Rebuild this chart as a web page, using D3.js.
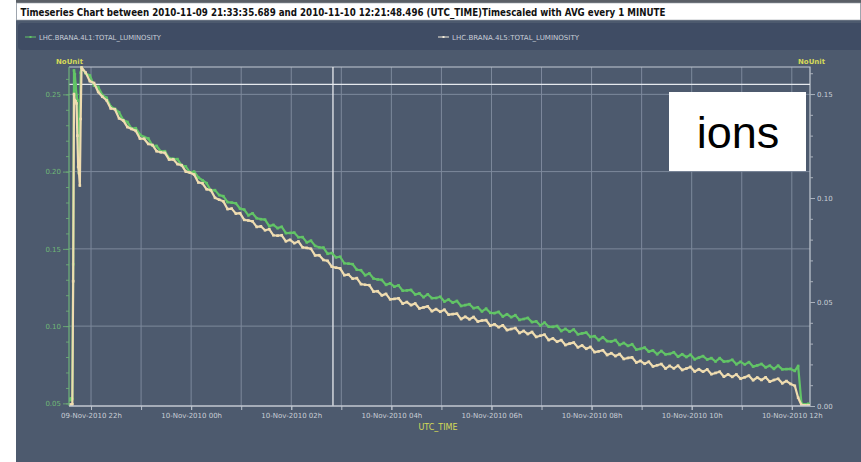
<!DOCTYPE html>
<html>
<head>
<meta charset="utf-8">
<script src="https://cdn.jsdelivr.net/npm/d3@7"></script>
<style>
  body { margin: 0; background: #ffffff; }
  svg { display: block; }
</style>
</head>
<body>
<svg id="chart" width="861" height="462"></svg>
<script>
// ---- chart data -------------------------------------------------------
const titleText = "Timeseries Chart between 2010-11-09 21:33:35.689 and 2010-11-10 12:21:48.496 (UTC_TIME)Timescaled with AVG every 1 MINUTE";
const seriesNames = ["LHC.BRANA.4L1:TOTAL_LUMINOSITY", "LHC.BRANA.4L5:TOTAL_LUMINOSITY"];
const startTime = "2010-11-09T21:33:35.689Z";
const endTime = "2010-11-10T12:21:48.496Z";
const cursorTime = "2010-11-10T02:50:00Z";
const cursorLevel = 0.2565;
const axisUnit = "NoUnit";
const timeAxisName = "UTC_TIME";
const noteText = "ions";

// sample times, minutes after startTime
const minutes = [
  0, 1, 2, 3, 4, 5, 6, 7, 8, 9, 10, 11, 12, 13, 14,
  15, 20, 25, 30, 35, 40, 45, 50, 55, 60, 65, 70, 75, 80, 85, 90, 95, 100,
  105, 110, 115, 120, 125, 130, 135, 140, 145, 150, 155, 160, 165, 170, 175, 180,
  185, 190, 195, 200, 205, 210, 215, 220, 225, 230, 235, 240, 245, 250, 255, 260,
  265, 270, 275, 280, 285, 290, 295, 300, 305, 310, 315, 320, 325, 330, 335, 340,
  345, 350, 355, 360, 365, 370, 375, 380, 385, 390, 395, 400, 405, 410, 415, 420,
  425, 430, 435, 440, 445, 450, 455, 460, 465, 470, 475, 480, 485, 490, 495, 500,
  505, 510, 515, 520, 525, 530, 535, 540, 545, 550, 555, 560, 565, 570, 575, 580,
  585, 590, 595, 600, 605, 610, 615, 620, 625, 630, 635, 640, 645, 650, 655, 660,
  665, 670, 675, 680, 685, 690, 695, 700, 705, 710, 715, 720, 725, 730, 735, 740,
  745, 750, 755, 760, 765, 770, 775, 780, 785, 790, 795, 800, 805, 810, 815, 820,
  825, 830, 835, 840, 845, 850, 855, 860, 865, 870,
  874, 878, 882, 886, 888
];

// LHC.BRANA.4L1 (left axis)
const lumi4L1 = [
  0.0520, 0.0525, 0.0532, 0.0522, 0.0528, 0.1400, 0.2655, 0.2630, 0.2560, 0.2495, 0.2460, 0.2150, 0.1990, 0.2314, 0.2640,
  0.2675, 0.2635, 0.2622, 0.2556, 0.2548, 0.2495, 0.2478, 0.2422, 0.2406, 0.2384, 0.2334, 0.2321, 0.2278, 0.2281, 0.2239, 0.2224, 0.2215, 0.2168,
  0.2166, 0.2131, 0.2132, 0.2087, 0.2083, 0.2081, 0.2041, 0.2033, 0.1993, 0.2000, 0.1962, 0.1944, 0.1925, 0.1878, 0.1880, 0.1848,
  0.1841, 0.1803, 0.1799, 0.1795, 0.1760, 0.1754, 0.1717, 0.1730, 0.1698, 0.1692, 0.1689, 0.1647, 0.1655, 0.1634, 0.1643, 0.1602,
  0.1603, 0.1605, 0.1575, 0.1576, 0.1542, 0.1553, 0.1519, 0.1510, 0.1508, 0.1468, 0.1473, 0.1445, 0.1449, 0.1407, 0.1404, 0.1401,
  0.1365, 0.1362, 0.1329, 0.1341, 0.1308, 0.1302, 0.1299, 0.1267, 0.1277, 0.1255, 0.1264, 0.1229, 0.1231, 0.1234, 0.1205, 0.1212,
  0.1187, 0.1206, 0.1181, 0.1182, 0.1190, 0.1159, 0.1172, 0.1152, 0.1163, 0.1130, 0.1136, 0.1142, 0.1116, 0.1122, 0.1095, 0.1113,
  0.1086, 0.1084, 0.1092, 0.1062, 0.1077, 0.1058, 0.1071, 0.1040, 0.1046, 0.1053, 0.1026, 0.1031, 0.1004, 0.1023, 0.0996, 0.0995,
  0.1001, 0.0968, 0.0982, 0.0964, 0.0978, 0.0947, 0.0953, 0.0958, 0.0930, 0.0935, 0.0909, 0.0928, 0.0903, 0.0900, 0.0910, 0.0878,
  0.0891, 0.0872, 0.0883, 0.0848, 0.0853, 0.0861, 0.0835, 0.0843, 0.0818, 0.0839, 0.0817, 0.0820, 0.0831, 0.0802, 0.0818, 0.0800,
  0.0815, 0.0785, 0.0796, 0.0806, 0.0784, 0.0793, 0.0771, 0.0793, 0.0770, 0.0773, 0.0782, 0.0753, 0.0769, 0.0752, 0.0767, 0.0738,
  0.0746, 0.0755, 0.0733, 0.0744, 0.0723, 0.0744, 0.0720, 0.0722, 0.0723, 0.0710,
  0.0742, 0.0498, 0.0494, 0.0497, 0.0495
];

// LHC.BRANA.4L5 (right axis)
const lumi4L5 = [
  0.0006, 0.0004, 0.0007, 0.0005, 0.0008, 0.0600, 0.1500, 0.1470, 0.1465, 0.1455, 0.1300, 0.1150, 0.1120, 0.1060, 0.1380,
  0.1628, 0.1603, 0.1562, 0.1553, 0.1510, 0.1487, 0.1470, 0.1431, 0.1427, 0.1383, 0.1373, 0.1341, 0.1332, 0.1323, 0.1286, 0.1285, 0.1260, 0.1255,
  0.1225, 0.1220, 0.1217, 0.1185, 0.1186, 0.1163, 0.1158, 0.1127, 0.1122, 0.1113, 0.1075, 0.1071, 0.1042, 0.1038, 0.1001, 0.0992,
  0.0984, 0.0947, 0.0949, 0.0925, 0.0927, 0.0895, 0.0892, 0.0888, 0.0861, 0.0864, 0.0845, 0.0850, 0.0821, 0.0819, 0.0821, 0.0792,
  0.0799, 0.0783, 0.0791, 0.0763, 0.0760, 0.0756, 0.0724, 0.0725, 0.0702, 0.0698, 0.0670, 0.0665, 0.0662, 0.0629, 0.0632, 0.0612,
  0.0615, 0.0586, 0.0583, 0.0581, 0.0550, 0.0552, 0.0532, 0.0539, 0.0513, 0.0515, 0.0518, 0.0492, 0.0500, 0.0485, 0.0493, 0.0469,
  0.0474, 0.0479, 0.0456, 0.0466, 0.0453, 0.0463, 0.0439, 0.0442, 0.0444, 0.0418, 0.0429, 0.0417, 0.0428, 0.0406, 0.0411, 0.0413,
  0.0386, 0.0393, 0.0379, 0.0388, 0.0365, 0.0370, 0.0375, 0.0351, 0.0361, 0.0346, 0.0356, 0.0332, 0.0338, 0.0343, 0.0317, 0.0325,
  0.0309, 0.0317, 0.0293, 0.0300, 0.0305, 0.0282, 0.0291, 0.0275, 0.0284, 0.0259, 0.0263, 0.0268, 0.0245, 0.0254, 0.0240, 0.0250,
  0.0226, 0.0231, 0.0234, 0.0209, 0.0217, 0.0203, 0.0213, 0.0190, 0.0196, 0.0202, 0.0180, 0.0193, 0.0181, 0.0194, 0.0173, 0.0180,
  0.0188, 0.0166, 0.0177, 0.0165, 0.0176, 0.0153, 0.0159, 0.0165, 0.0141, 0.0152, 0.0140, 0.0152, 0.0131, 0.0138, 0.0146, 0.0124,
  0.0137, 0.0125, 0.0138, 0.0117, 0.0125, 0.0131, 0.0109, 0.0120, 0.0106, 0.0097,
  0.0040, 0.0005, 0.0003, 0.0004, 0.0003
];

const leftDomain = [0.0483, 0.2677];
const rightDomain = [0, 0.163];
const leftTicks = [0.05, 0.10, 0.15, 0.20, 0.25];
const rightTicks = [0.00, 0.05, 0.10, 0.15];

// ---- colours ------------------------------------------------------------
const panelColor = "#4d5a6e";
const legendColor = "#3f4c64";
const gridColor = "#7d899c";
const frameColor = "#c4cad3";
const cursorColor = "#e6e9ee";
const greenColor = "#62c466";
const creamColor = "#efdcb0";
const greenText = "#6fb877";
const greyText = "#c9ced6";
const yellowText = "#d6da58";

// ---- layout -------------------------------------------------------------
const plot = { left: 69, right: 810, top: 67, bottom: 406 };

const svg = d3.select("#chart");
const parse = d3.isoParse;
const t0 = parse(startTime);
const t1 = parse(endTime);

const x = d3.scaleUtc().domain([t0, t1]).range([plot.left, plot.right]);
const yL = d3.scaleLinear().domain(leftDomain).range([plot.bottom, plot.top]);
const yR = d3.scaleLinear().domain(rightDomain).range([plot.bottom, plot.top]);

const timeOf = m => new Date(t0.getTime() + m * 60000);
const rows = (vals) => minutes
  .map((m, i) => ({ t: timeOf(m), v: vals[i] }))
  .filter(d => d.v != null);

// background panel
svg.append("rect").attr("x", 16).attr("y", 0).attr("width", 845).attr("height", 462)
  .attr("fill", panelColor);

// title bar
svg.append("rect").attr("x", 16).attr("y", 0).attr("width", 845).attr("height", 3)
  .attr("fill", "#5a5f66");
svg.append("rect").attr("x", 16.5).attr("y", 3).attr("width", 844).attr("height", 17)
  .attr("fill", "#ffffff").attr("stroke", "#9aa0a8").attr("stroke-width", 0.6);
svg.append("text").attr("x", 20.5).attr("y", 16.2)
  .attr("font-family", "'DejaVu Sans', sans-serif").attr("font-weight", "bold")
  .attr("font-size", 11).attr("fill", "#111")
  .attr("textLength", 645).attr("lengthAdjust", "spacingAndGlyphs")
  .text(titleText);

// legend band
svg.append("rect").attr("x", 18).attr("y", 23).attr("width", 850).attr("height", 27)
  .attr("rx", 4).attr("fill", legendColor);

const legendItems = [
  { name: seriesNames[0], color: greenColor, x: 25, len: 122 },
  { name: seriesNames[1], color: "#f2ead8", x: 438, len: 127 }
];
const lg = svg.append("g").selectAll("g").data(legendItems).join("g")
  .attr("transform", d => `translate(${d.x},37)`);
lg.append("line").attr("x1", 0).attr("x2", 11).attr("y1", 0).attr("y2", 0)
  .attr("stroke", d => d.color).attr("stroke-width", 1);
lg.append("rect").attr("x", 4.5).attr("y", -1).attr("width", 2).attr("height", 2)
  .attr("fill", d => d.color);
lg.append("text").attr("x", 14).attr("y", 2.5)
  .attr("font-family", "'DejaVu Sans', sans-serif").attr("font-size", 7)
  .attr("fill", "#c8ced8")
  .attr("textLength", d => d.len).attr("lengthAdjust", "spacingAndGlyphs")
  .text(d => d.name);

// unit labels
svg.append("text").attr("x", 56).attr("y", 64)
  .attr("font-family", "'DejaVu Sans', sans-serif").attr("font-size", 7).attr("font-weight", "bold")
  .attr("fill", yellowText).text(axisUnit);
svg.append("text").attr("x", 798).attr("y", 64)
  .attr("font-family", "'DejaVu Sans', sans-serif").attr("font-size", 7).attr("font-weight", "bold")
  .attr("fill", yellowText).text(axisUnit);

// grid
const grid = svg.append("g");
grid.selectAll("line.v").data(x.ticks(d3.utcHour.every(1))).join("line")
  .attr("class", "v")
  .attr("x1", d => x(d)).attr("x2", d => x(d))
  .attr("y1", plot.top).attr("y2", plot.bottom)
  .attr("stroke", gridColor).attr("stroke-width", 1);
grid.selectAll("line.h").data(leftTicks.filter(v => v > 0.06)).join("line")
  .attr("class", "h")
  .attr("x1", plot.left).attr("x2", plot.right)
  .attr("y1", d => yL(d)).attr("y2", d => yL(d))
  .attr("stroke", gridColor).attr("stroke-width", 1);

// frame (top and right)
svg.append("path")
  .attr("d", `M${plot.left},${plot.top}H${plot.right}V${plot.bottom}`)
  .attr("fill", "none").attr("stroke", frameColor).attr("stroke-width", 1.2);

// crosshair cursor
svg.append("line")
  .attr("x1", x(parse(cursorTime))).attr("x2", x(parse(cursorTime)))
  .attr("y1", plot.top).attr("y2", plot.bottom)
  .attr("stroke", cursorColor).attr("stroke-width", 1.3);
svg.append("line")
  .attr("x1", plot.left).attr("x2", plot.right)
  .attr("y1", yL(cursorLevel)).attr("y2", yL(cursorLevel))
  .attr("stroke", cursorColor).attr("stroke-width", 1.3);

// series: thin connecting line plus a small square at every sample
svg.append("clipPath").attr("id", "plotClip").append("rect")
  .attr("x", plot.left).attr("y", plot.top - 2)
  .attr("width", plot.right - plot.left).attr("height", plot.bottom - plot.top + 2);

const series = svg.append("g").attr("clip-path", "url(#plotClip)");
const lineL = d3.line().x(d => x(d.t)).y(d => yL(d.v));
const lineR = d3.line().x(d => x(d.t)).y(d => yR(d.v));

const drawSeries = (data, line, yScale, color) => {
  const g = series.append("g");
  g.append("path").datum(data)
    .attr("d", line).attr("fill", "none")
    .attr("stroke", color).attr("stroke-width", 2.2).attr("stroke-linejoin", "round");
  g.selectAll("rect").data(data).join("rect")
    .attr("x", d => x(d.t) - 1.3).attr("y", d => yScale(d.v) - 1.3)
    .attr("width", 2.6).attr("height", 2.6)
    .attr("fill", color);
};
drawSeries(rows(lumi4L1), lineL, yL, greenColor);
drawSeries(rows(lumi4L5), lineR, yR, creamColor);

// axes
const fmt2 = d3.format(".2f");
const styleAxis = (g, lineColor, textColor) => {
  g.select(".domain").remove();
  g.selectAll(".tick line").attr("stroke", lineColor);
  g.selectAll(".tick text").attr("fill", textColor)
    .attr("font-family", "'DejaVu Sans', sans-serif").attr("font-size", 7);
};

// left axis
svg.append("g").attr("transform", `translate(${plot.left},0)`)
  .call(d3.axisLeft(yL).tickValues(d3.range(0.05, 0.2651, 0.01)).tickSize(3).tickFormat(""))
  .call(g => styleAxis(g, "#69a574", greenText));
svg.append("g").attr("transform", `translate(${plot.left},0)`)
  .call(d3.axisLeft(yL).tickValues(leftTicks).tickSize(6).tickPadding(2).tickFormat(fmt2))
  .call(g => styleAxis(g, "#69a574", greenText));
svg.append("line").attr("x1", plot.left).attr("x2", plot.left)
  .attr("y1", plot.top).attr("y2", plot.bottom)
  .attr("stroke", "#6fb37a").attr("stroke-width", 1.2);

// right axis
svg.append("g").attr("transform", `translate(${plot.right},0)`)
  .call(d3.axisRight(yR).tickValues(d3.range(0, 0.1601, 0.01)).tickSize(3).tickFormat(""))
  .call(g => styleAxis(g, "#aab1bc", greyText));
svg.append("g").attr("transform", `translate(${plot.right},0)`)
  .call(d3.axisRight(yR).tickValues(rightTicks).tickSize(5).tickPadding(2).tickFormat(fmt2))
  .call(g => styleAxis(g, "#aab1bc", greyText));

// time axis
svg.append("g").attr("transform", `translate(0,${plot.bottom})`)
  .call(d3.axisBottom(x).ticks(d3.utcHour.every(1)).tickSize(4).tickFormat(""))
  .call(g => styleAxis(g, "#b9c0ca", greyText));
svg.append("g").attr("transform", `translate(0,${plot.bottom})`)
  .call(d3.axisBottom(x).ticks(d3.utcHour.every(2)).tickSize(4).tickPadding(3)
    .tickFormat(d3.utcFormat("%d-%b-%Y %Hh")))
  .call(g => styleAxis(g, "#b9c0ca", greyText));
svg.append("line").attr("x1", plot.left).attr("x2", plot.right)
  .attr("y1", plot.bottom).attr("y2", plot.bottom)
  .attr("stroke", "#c3c9d2").attr("stroke-width", 1.6);

svg.append("text").attr("x", 438).attr("y", 430).attr("text-anchor", "middle")
  .attr("font-family", "'DejaVu Sans', sans-serif").attr("font-size", 8)
  .attr("fill", yellowText).text(timeAxisName);

// note box
svg.append("rect").attr("x", 669).attr("y", 92).attr("width", 137).attr("height", 79)
  .attr("fill", "#ffffff");
svg.append("text").attr("x", 738).attr("y", 148).attr("text-anchor", "middle")
  .attr("font-family", "'Liberation Sans', Arial, sans-serif").attr("font-size", 45)
  .attr("fill", "#000000").text(noteText);
</script>
</body>
</html>
